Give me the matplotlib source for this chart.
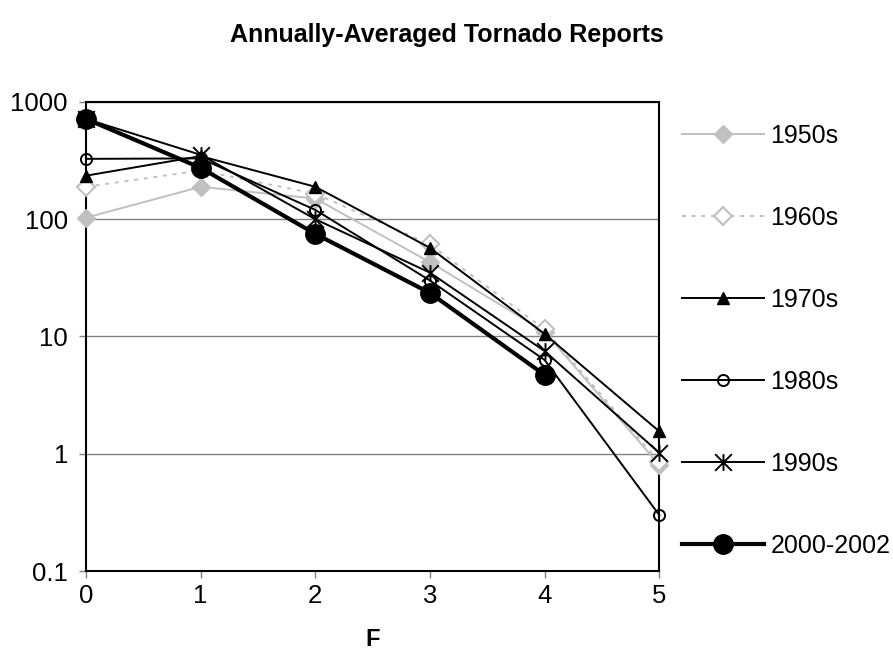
import matplotlib
matplotlib.use("Agg")
import matplotlib.pyplot as plt
from matplotlib.path import Path

plt.rcParams['font.family'] = ['Liberation Sans', 'DejaVu Sans']

F = [0, 1, 2, 3, 4, 5]
s1950 = [103, 189, 150, 43, 11, 0.8]
s1960 = [189, 260, 165, 61, 11.5, 0.85]
s1970 = [235, 345, 189, 57, 10.5, 1.55]
s1980 = [327, 330, 120, 30, 6.3, 0.3]
s1990 = [716, 354, 100, 35, 7.5, 1.02]
s2000 = [716, 274, 75, 23.5, 4.7]
labels = ["1950s", "1960s", "1970s", "1980s", "1990s", "2000-2002"]
yticks = [0.1, 1, 10, 100, 1000]
ytick_labels = ["0.1", "1", "10", "100", "1000"]

star = Path([(0, -1), (0, 1), (-1, -1), (1, 1), (-1, 1), (1, -1)],
            [Path.MOVETO, Path.LINETO, Path.MOVETO, Path.LINETO, Path.MOVETO, Path.LINETO])

fig = plt.figure(figsize=(8.93, 6.64), dpi=100)
ax = fig.add_axes([0.0963, 0.140, 0.642, 0.7065])

gray = '#c0c0c0'
kw = dict(clip_on=False)
ax.plot(F, s1950, color=gray, lw=1.4, marker='D', ms=9, mfc=gray, mec=gray, label=labels[0], zorder=3, **kw)
ax.plot(F, s1960, color=gray, lw=1.4, ls=(0, (2, 3)), marker='D', ms=9, mfc='white', mec=gray,
        mew=1.5, label=labels[1], zorder=3, **kw)
ax.plot(F, s1970, color='black', lw=1.4, marker='^', ms=9, mfc='black', mec='black', label=labels[2],
        zorder=4, **kw)
ax.plot(F, s1980, color='black', lw=1.4, marker='o', ms=8, mfc='none', mec='black', mew=1.4,
        label=labels[3], zorder=4, **kw)
ax.plot(F, s1990, color='black', lw=1.4, marker=star, ms=12, mec='black', mew=1.4, label=labels[4],
        zorder=4, **kw)
ax.plot(F[:len(s2000)], s2000, color='black', lw=3, marker='o', ms=14, mfc='black', mec='black',
        label=labels[5], zorder=5, **kw)

ax.set_yscale('log')
ax.set_ylim(0.1, 1000)
ax.set_xlim(0, 5)
ax.set_yticks(yticks)
ax.set_yticklabels(ytick_labels)
ax.minorticks_off()
ax.set_xticks(F)
ax.tick_params(axis='both', labelsize=18.5, length=5, width=1, color='#808080', direction='out')
ax.tick_params(axis='y', pad=8)
ax.tick_params(axis='x', pad=4)
ax.yaxis.grid(True, color='#808080', lw=1)
ax.set_axisbelow(True)
for sp in ax.spines.values():
    sp.set_linewidth(1.5)
    sp.set_color('black')

ax.set_xlabel('F', fontsize=17, fontweight='bold', labelpad=15)
fig.text(0.5, 0.948, 'Annually-Averaged Tornado Reports', ha='center', va='center',
         fontsize=18, fontweight='bold')

fig.legend(loc='upper left', bbox_to_anchor=(0.752, 0.828), frameon=False, fontsize=18,
           handlelength=3.3, handletextpad=0.25, labelspacing=2.32, borderaxespad=0)

fig.savefig('out.png', dpi=100)
